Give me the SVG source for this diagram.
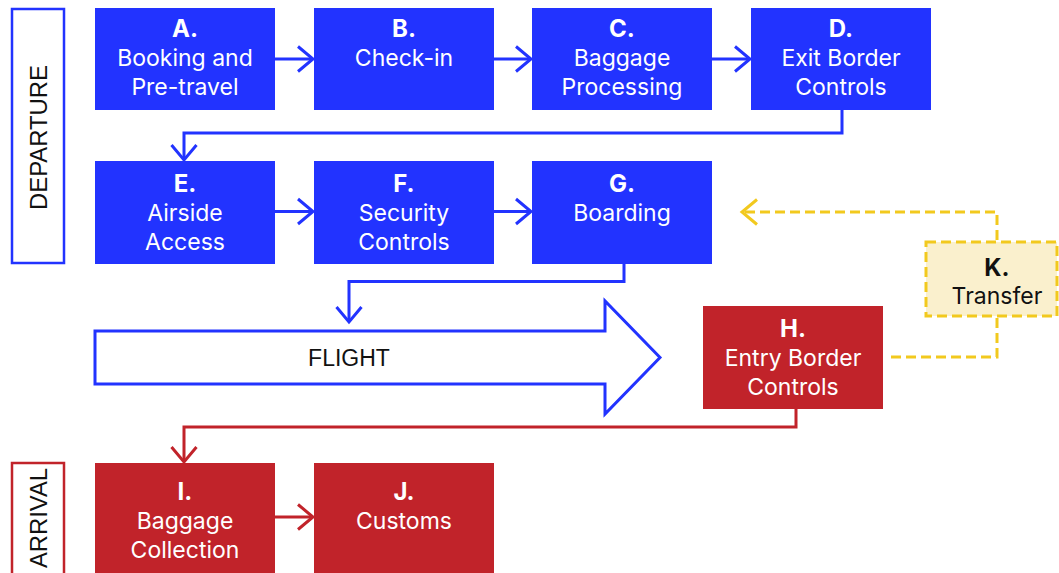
<svg xmlns="http://www.w3.org/2000/svg" width="1059" height="573" viewBox="0 0 1059 573">
  <style>
    .blue { fill: #2233ff; }
    .red { fill: #c1232a; }
    .lbl { font-family: Inter, "Liberation Sans", sans-serif; font-size: 23px; fill: #ffffff; text-anchor: middle; }
    .lbl .b { font-weight: 700; font-size: 24px; }
    .dark { fill: #111111; }
    .phase { font-family: "Liberation Sans", Arial, sans-serif; font-size: 23.5px; fill: #111111; text-anchor: middle; }
    .conn { fill: none; stroke-width: 3; }
    .cb { stroke: #2233ff; }
    .cr { stroke: #c1232a; }
    .cy { stroke: #f2c91e; stroke-dasharray: 10 5; }
  </style>
  <defs>
    <marker id="chev-blue" markerUnits="userSpaceOnUse" markerWidth="20" markerHeight="30" refX="16" refY="14" orient="auto" overflow="visible">
      <path d="M1,1.5 L16,14 L1,26.5" fill="none" stroke="#2233ff" stroke-width="3"/>
    </marker>
    <marker id="chev-red" markerUnits="userSpaceOnUse" markerWidth="20" markerHeight="30" refX="16" refY="14" orient="auto" overflow="visible">
      <path d="M1,1.5 L16,14 L1,26.5" fill="none" stroke="#c1232a" stroke-width="3"/>
    </marker>
    <marker id="chev-yellow" markerUnits="userSpaceOnUse" markerWidth="20" markerHeight="30" refX="16" refY="14" orient="auto" overflow="visible">
      <path d="M1,1.5 L16,14 L1,26.5" fill="none" stroke="#f2c91e" stroke-width="3"/>
    </marker>
  </defs>

  <rect width="1059" height="573" fill="#ffffff"/>

  <!-- phase labels -->
  <g id="phase-departure">
    <rect x="12" y="9" width="52" height="254" fill="none" stroke="#2233ff" stroke-width="2.5"/>
    <text class="phase" transform="translate(47,137.5) rotate(-90)" textLength="145" lengthAdjust="spacingAndGlyphs">DEPARTURE</text>
  </g>
  <g id="phase-arrival">
    <rect x="12" y="463" width="52" height="120" fill="none" stroke="#c1232a" stroke-width="2.5"/>
    <text class="phase" transform="translate(47,518) rotate(-90)" textLength="100" lengthAdjust="spacingAndGlyphs">ARRIVAL</text>
  </g>

  <!-- connectors -->
  <g id="connectors">
    <path class="conn cb" d="M275,59 H313" marker-end="url(#chev-blue)"/>
    <path class="conn cb" d="M494,59 H531" marker-end="url(#chev-blue)"/>
    <path class="conn cb" d="M712,59 H750" marker-end="url(#chev-blue)"/>
    <path class="conn cb" d="M842,110 V133 H184 V160" marker-end="url(#chev-blue)"/>
    <path class="conn cb" d="M275,211.5 H313" marker-end="url(#chev-blue)"/>
    <path class="conn cb" d="M494,211.5 H531" marker-end="url(#chev-blue)"/>
    <path class="conn cb" d="M624,264 V281.5 H349 V322" marker-end="url(#chev-blue)"/>
    <path class="conn cr" d="M796,409 V427 H184 V462" marker-end="url(#chev-red)"/>
    <path class="conn cr" d="M275,517 H313" marker-end="url(#chev-red)"/>
    <path class="conn cy" d="M997,240 V212 H742" marker-end="url(#chev-yellow)"/>
    <path class="conn cy" d="M997,318 V357 H890"/>
  </g>

  <!-- departure steps -->
  <g id="node-a">
    <rect class="blue" x="95" y="8" width="180" height="102"/>
    <text class="lbl"><tspan class="b" x="185" y="37">A.</tspan><tspan x="185" y="66">Booking and</tspan><tspan x="185" y="95">Pre-travel</tspan></text>
  </g>
  <g id="node-b">
    <rect class="blue" x="314" y="8" width="180" height="102"/>
    <text class="lbl"><tspan class="b" x="404" y="37">B.</tspan><tspan x="404" y="66">Check-in</tspan></text>
  </g>
  <g id="node-c">
    <rect class="blue" x="532" y="8" width="180" height="102"/>
    <text class="lbl"><tspan class="b" x="622" y="37">C.</tspan><tspan x="622" y="66">Baggage</tspan><tspan x="622" y="95">Processing</tspan></text>
  </g>
  <g id="node-d">
    <rect class="blue" x="751" y="8" width="180" height="102"/>
    <text class="lbl"><tspan class="b" x="841" y="37">D.</tspan><tspan x="841" y="66">Exit Border</tspan><tspan x="841" y="95">Controls</tspan></text>
  </g>
  <g id="node-e">
    <rect class="blue" x="95" y="161" width="180" height="103"/>
    <text class="lbl"><tspan class="b" x="185" y="192">E.</tspan><tspan x="185" y="221">Airside</tspan><tspan x="185" y="250">Access</tspan></text>
  </g>
  <g id="node-f">
    <rect class="blue" x="314" y="161" width="180" height="103"/>
    <text class="lbl"><tspan class="b" x="404" y="192">F.</tspan><tspan x="404" y="221">Security</tspan><tspan x="404" y="250">Controls</tspan></text>
  </g>
  <g id="node-g">
    <rect class="blue" x="532" y="161" width="180" height="103"/>
    <text class="lbl"><tspan class="b" x="622" y="192">G.</tspan><tspan x="622" y="221">Boarding</tspan></text>
  </g>

  <!-- flight -->
  <g id="node-flight">
    <path d="M95,331 H605 V301 L660,357.5 L605,414 V384 H95 Z" fill="#ffffff" stroke="#2233ff" stroke-width="3" stroke-linejoin="miter"/>
    <text x="349" y="366" font-family="'Liberation Sans', Arial, sans-serif" font-size="23" fill="#111111" text-anchor="middle">FLIGHT</text>
  </g>

  <!-- arrival steps -->
  <g id="node-h">
    <rect class="red" x="703" y="306" width="180" height="103"/>
    <text class="lbl"><tspan class="b" x="793" y="337">H.</tspan><tspan x="793" y="366">Entry Border</tspan><tspan x="793" y="395">Controls</tspan></text>
  </g>
  <g id="node-i">
    <rect class="red" x="95" y="463" width="180" height="115"/>
    <text class="lbl"><tspan class="b" x="185" y="500">I.</tspan><tspan x="185" y="529">Baggage</tspan><tspan x="185" y="558">Collection</tspan></text>
  </g>
  <g id="node-j">
    <rect class="red" x="314" y="463" width="180" height="115"/>
    <text class="lbl"><tspan class="b" x="404" y="500">J.</tspan><tspan x="404" y="529">Customs</tspan></text>
  </g>

  <!-- transfer -->
  <g id="node-k">
    <rect x="926" y="242" width="131" height="74" fill="#faf0cd" stroke="#f2c91e" stroke-width="3" stroke-dasharray="10 5"/>
    <text class="lbl dark"><tspan class="b" x="997" y="276">K.</tspan><tspan x="997" y="304">Transfer</tspan></text>
  </g>
</svg>
